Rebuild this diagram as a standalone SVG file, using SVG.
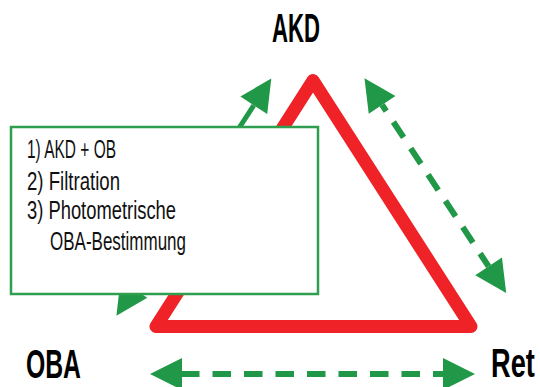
<svg xmlns="http://www.w3.org/2000/svg" width="540" height="387" viewBox="0 0 540 387">
  <defs>
    <style>
      .tri { fill: none; stroke: #ee2227; stroke-width: 13; stroke-linejoin: round; }
      .solid { fill: none; stroke: #219847; stroke-width: 5; }
      .dashed { fill: none; stroke: #219847; stroke-width: 6; stroke-dasharray: 18.5 13; }
      .box { fill: #ffffff; stroke: #2f9e4f; stroke-width: 2.5; }
      .body { font-family: "Liberation Sans", Arial, sans-serif; font-size: 25px; fill: #111111; }
      .title { font-family: "Liberation Sans", Arial, sans-serif; font-weight: bold; fill: #000000; }
    </style>
    <marker id="head" markerUnits="userSpaceOnUse" markerWidth="32" markerHeight="32" viewBox="0 0 31 31" refX="0" refY="15.5" orient="auto-start-reverse" overflow="visible">
      <path d="M0,0 L31,15.5 L0,31 Z" fill="#219847"/>
    </marker>
  </defs>
  <rect width="540" height="387" fill="#ffffff"/>

  <g id="triangle">
    <path class="tri" d="M313,80.5 L156,326.5 L471,326.5 Z"/>
  </g>

  <g id="connectors">
    <path class="solid" d="M133.9,289 L253.8,105.3" marker-start="url(#head)" marker-end="url(#head)"/>
    <path class="dashed" d="M382.1,104.9 L488.6,266.4" stroke-dashoffset="11" marker-start="url(#head)" marker-end="url(#head)"/>
    <path class="dashed" d="M182,374 L443,374" stroke-dashoffset="1" marker-start="url(#head)" marker-end="url(#head)"/>
  </g>

  <g id="box">
    <rect class="box" x="11" y="127" width="307" height="167"/>
    <text class="body" x="27" y="158" textLength="89" lengthAdjust="spacingAndGlyphs">1) AKD + OB</text>
    <text class="body" x="27" y="190" textLength="93" lengthAdjust="spacingAndGlyphs">2) Filtration</text>
    <text class="body" x="27" y="219" textLength="149" lengthAdjust="spacingAndGlyphs">3) Photometrische</text>
    <text class="body" x="50" y="250" textLength="136" lengthAdjust="spacingAndGlyphs">OBA-Bestimmung</text>
  </g>

  <g id="node-akd">
    <text class="title" x="272" y="42" font-size="40" textLength="48" lengthAdjust="spacingAndGlyphs">AKD</text>
  </g>
  <g id="node-oba">
    <text class="title" x="26" y="378" font-size="40" textLength="55" lengthAdjust="spacingAndGlyphs">OBA</text>
  </g>
  <g id="node-ret">
    <text class="title" transform="translate(491,377) scale(0.68,1)" font-size="40">Ret</text>
  </g>
</svg>
